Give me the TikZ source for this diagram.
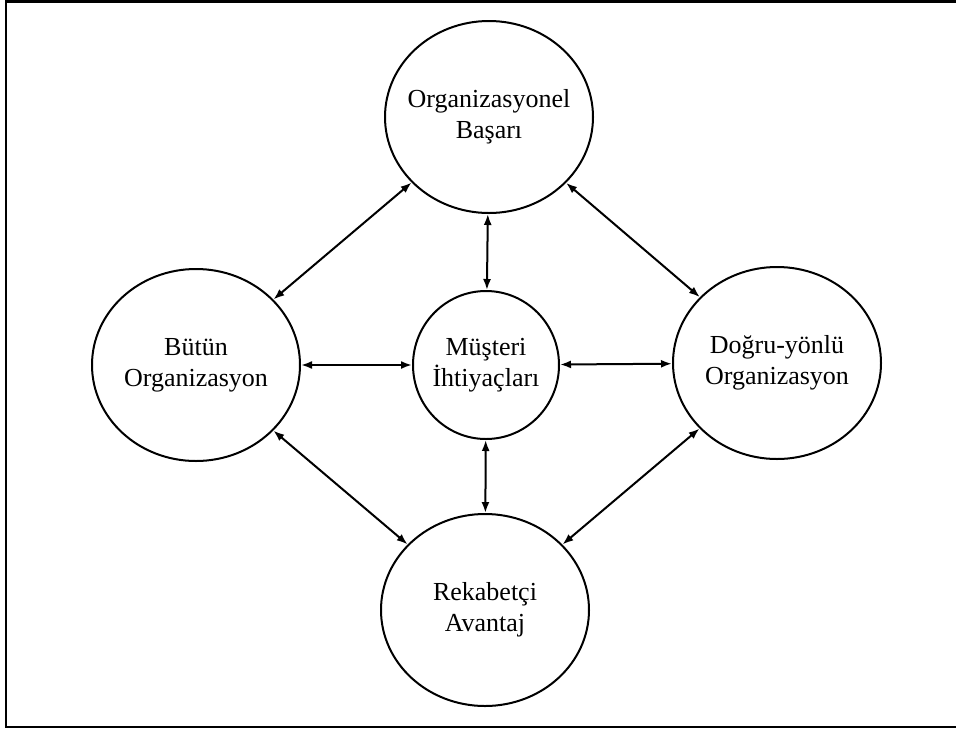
\documentclass[tikz,border=0pt]{standalone}
\usepackage{fontspec}
\setmainfont{Liberation Serif}
\usetikzlibrary{arrows.meta,shapes.geometric}
\begin{document}
\begin{tikzpicture}[x=1pt,y=-1pt,
  bigc/.style={draw, ellipse, line width=2pt, minimum width=208pt, minimum height=192pt, inner sep=0pt},
  smallc/.style={draw, ellipse, line width=2pt, minimum width=146pt, minimum height=148pt, inner sep=0pt},
  lbl/.style={align=center, font=\fontsize{26}{31}\selectfont, inner sep=0pt},
  link/.style={line width=2pt, {Latex[length=11pt,width=8pt]}-{Latex[length=11pt,width=8pt]}}
]
\useasboundingbox (0,0) rectangle (956,732);

% open frame: top, left and bottom edges
\draw[line width=2.5pt] (956,1.5) -- (6,1.5) -- (6,727) -- (956,727);

% concept circles
\node[bigc]   (top)   at (489,117) {};
\node[bigc]   (left)  at (196,365) {};
\node[bigc]   (right) at (777,363) {};
\node[bigc]   (bot)   at (485,610) {};
\node[smallc] (mid)   at (486,365) {};

% labels
\node[lbl] at (top)   {Organizasyonel\\Başarı};
\node[lbl] at (left)  {Bütün\\Organizasyon};
\node[lbl] at (right) {Doğru-yönlü\\Organizasyon};
\node[lbl] at (bot)   {Rekabetçi\\Avantaj};
\node[lbl] at (mid)   {Müşteri\\İhtiyaçları};

% two-way links
\draw[link] (top) -- (left);
\draw[link] (top) -- (right);
\draw[link] (left) -- (bot);
\draw[link] (right) -- (bot);
\draw[link] (left) -- (mid);
\draw[link] (mid) -- (right);
\draw[link] (mid) -- (top);
\draw[link] (mid) -- (bot);
\end{tikzpicture}
\end{document}
